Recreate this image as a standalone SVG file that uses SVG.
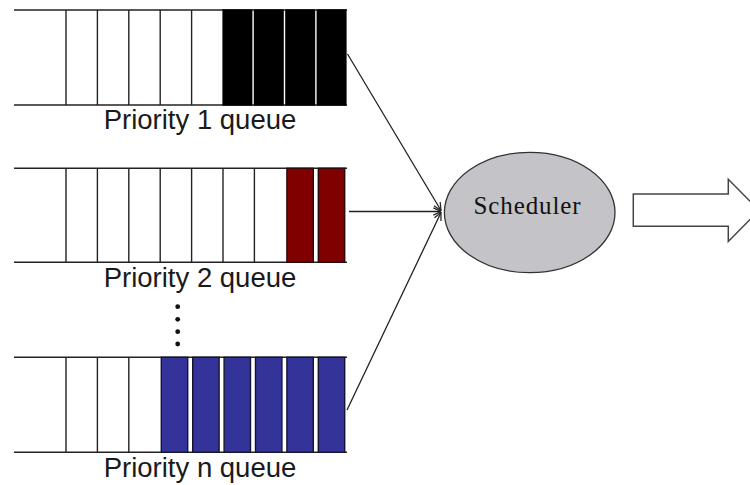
<svg xmlns="http://www.w3.org/2000/svg" width="750" height="485" viewBox="0 0 750 485">
  <defs>
    <style>
      .rail { stroke: #222; stroke-width: 1.5; fill: none; }
      .div { stroke: #222; stroke-width: 1.4; }
      .blk { fill: #000; }
      .red { fill: #800000; stroke: #2a0a0a; stroke-width: 1.4; }
      .blu { fill: #333399; stroke: #141430; stroke-width: 1.4; }
      .lbl { font-family: "Liberation Sans", Arial, sans-serif; font-size: 27.5px; fill: #1a1a1a; text-anchor: middle; }
      .conn { stroke: #222; stroke-width: 1.3; fill: none; marker-end: url(#head); }
    </style>
    <marker id="head" viewBox="0 0 10 10" refX="9.5" refY="5" markerWidth="9" markerHeight="9" markerUnits="userSpaceOnUse" orient="auto">
      <path d="M1,1 L9.5,5 L1,9" fill="none" stroke="#222" stroke-width="1.4"/>
    </marker>
  </defs>
  <rect width="750" height="485" fill="#fff"/>

  <!-- Priority 1 queue -->
  <g id="queue1">
    <line class="rail" x1="14" y1="10" x2="347" y2="10"/>
    <line class="rail" x1="14" y1="105" x2="347" y2="105"/>
    <line class="div" x1="66" y1="10" x2="66" y2="105"/>
    <line class="div" x1="97.4" y1="10" x2="97.4" y2="105"/>
    <line class="div" x1="128.8" y1="10" x2="128.8" y2="105"/>
    <line class="div" x1="160.2" y1="10" x2="160.2" y2="105"/>
    <line class="div" x1="191.6" y1="10" x2="191.6" y2="105"/>
    <rect class="blk" x="222.4" y="9.3" width="30" height="96.4"/>
    <rect class="blk" x="253.8" y="9.3" width="30" height="96.4"/>
    <rect class="blk" x="285.2" y="9.3" width="30" height="96.4"/>
    <rect class="blk" x="316.6" y="9.3" width="30" height="96.4"/>
    <text class="lbl" x="200" y="129">Priority 1 queue</text>
  </g>

  <!-- Priority 2 queue -->
  <g id="queue2">
    <line class="rail" x1="14" y1="168.3" x2="347" y2="168.3"/>
    <line class="rail" x1="14" y1="262.3" x2="347" y2="262.3"/>
    <line class="div" x1="66" y1="168.3" x2="66" y2="262.3"/>
    <line class="div" x1="97.4" y1="168.3" x2="97.4" y2="262.3"/>
    <line class="div" x1="128.8" y1="168.3" x2="128.8" y2="262.3"/>
    <line class="div" x1="160.2" y1="168.3" x2="160.2" y2="262.3"/>
    <line class="div" x1="191.6" y1="168.3" x2="191.6" y2="262.3"/>
    <line class="div" x1="223" y1="168.3" x2="223" y2="262.3"/>
    <line class="div" x1="254.4" y1="168.3" x2="254.4" y2="262.3"/>
    <rect class="red" x="286.9" y="168.3" width="26.4" height="94"/>
    <rect class="red" x="318.3" y="168.3" width="26.4" height="94"/>
    <text class="lbl" x="200" y="287">Priority 2 queue</text>
  </g>

  <!-- ellipsis between queues -->
  <g id="more" fill="#111">
    <circle cx="177.7" cy="306.7" r="2.4"/>
    <circle cx="177.7" cy="319.3" r="2.4"/>
    <circle cx="177.7" cy="331.7" r="2.4"/>
    <circle cx="177.7" cy="344" r="2.4"/>
  </g>

  <!-- Priority n queue -->
  <g id="queueN">
    <line class="rail" x1="14" y1="357.3" x2="347" y2="357.3"/>
    <line class="rail" x1="14" y1="452.3" x2="347" y2="452.3"/>
    <line class="div" x1="66" y1="357.3" x2="66" y2="452.3"/>
    <line class="div" x1="97.4" y1="357.3" x2="97.4" y2="452.3"/>
    <line class="div" x1="128.8" y1="357.3" x2="128.8" y2="452.3"/>
    <rect class="blu" x="161.3" y="357.3" width="26.4" height="95"/>
    <rect class="blu" x="192.7" y="357.3" width="26.4" height="95"/>
    <rect class="blu" x="224.1" y="357.3" width="26.4" height="95"/>
    <rect class="blu" x="255.5" y="357.3" width="26.4" height="95"/>
    <rect class="blu" x="286.9" y="357.3" width="26.4" height="95"/>
    <rect class="blu" x="318.3" y="357.3" width="26.4" height="95"/>
    <text class="lbl" x="200" y="476.5">Priority n queue</text>
  </g>

  <!-- Scheduler -->
  <g id="scheduler">
    <ellipse cx="529.7" cy="212.5" rx="85.3" ry="60.2" fill="#c4c3c8" stroke="#333" stroke-width="1.3"/>
    <text x="527.5" y="214" font-family="'Liberation Serif', 'Times New Roman', serif" font-size="25" letter-spacing="0.9" fill="#111" text-anchor="middle">Scheduler</text>
  </g>

  <!-- Output arrow -->
  <g id="output">
    <polygon points="633.3,194 728.3,194 728.3,179.3 759,210.3 728.3,241.5 728.3,226.3 633.3,226.3" fill="#fff" stroke="#444" stroke-width="1.5"/>
  </g>

  <!-- Connectors -->
  <g id="connectors">
    <line class="conn" x1="347.5" y1="54" x2="441" y2="210.5"/>
    <line class="conn" x1="349" y1="211.5" x2="441" y2="211.5"/>
    <line class="conn" x1="347" y1="410" x2="441" y2="212.5"/>
  </g>
</svg>
